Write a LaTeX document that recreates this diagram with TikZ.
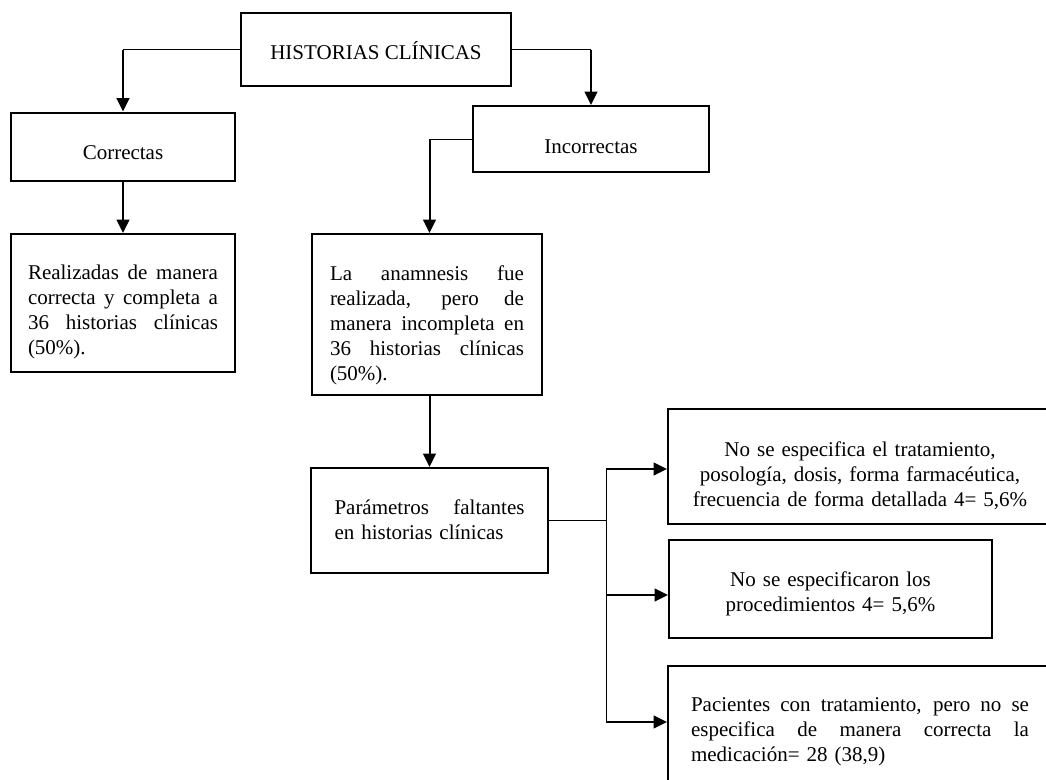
\documentclass[tikz,border=0pt]{standalone}
\usepackage{fontspec}
\setmainfont{Liberation Serif}
\usetikzlibrary{arrows.meta,positioning,calc}
% justified line: spaces stretched to the given width
\newcommand\fillline[2]{{\spaceskip=0.25em plus 1fil\makebox[#1][s]{#2}}}
\tikzset{
  >=Triangle,
  every node/.append style={font=\fontsize{15.75pt}{18.75pt}\selectfont},
}
\tikzset{
  box/.style={draw, line width=1.5pt, inner sep=0pt, align=center},
  arrow/.style={-{Triangle[length=10pt,width=9.5pt]}, line width=1.5pt},
  link/.style={line width=0.75pt}
}

\begin{document}
\begin{tikzpicture}[
  x=0.75pt, y=-0.75pt,
  title/.style ={box, minimum width=202.5pt, minimum height=54.75pt, text height=15.6pt, text depth=0pt},
  branch/.style={box, minimum height=51pt, text height=20.2pt, text depth=0pt},
  textbox/.style={box, align=left, text height=12pt}
]

% page frame (the figure is cut at the right and bottom)
\useasboundingbox (0,0) rectangle (1046,779);
\clip (0,0) rectangle (1046,779);
\fill[white] (0,0) rectangle (1046,779);

% title box
\node[title] (hist) at (376,49.5) {HISTORIAS CLÍNICAS};

% the two branches
\node[branch, minimum width=168pt] (correctas) at (123,146.5) {Correctas};
\node[branch, minimum width=177pt, minimum height=49.5pt, text height=22.4pt] (incorrectas) at (591,139) {Incorrectas};

% results under each branch
\node[textbox, minimum width=168pt, minimum height=103.5pt, text width=142.5pt, text depth=47.35pt] (realizadas) at (123,303)
  {\fillline{142.5pt}{Realizadas de manera}\\
   \fillline{142.5pt}{correcta y completa a}\\
   \fillline{142.5pt}{36 historias clínicas}\\
   (50\%).};
\node[textbox, minimum width=172.5pt, minimum height=120.75pt, text width=145.5pt, text depth=62.4pt] (anamnesis) at (427,314.5)
  {\fillline{145.5pt}{La anamnesis fue}\\
   \fillline{145.5pt}{realizada, pero de}\\
   \fillline{145.5pt}{manera incompleta en}\\
   \fillline{145.5pt}{36 historias clínicas}\\
   (50\%).};
\node[textbox, minimum width=177.75pt, minimum height=78.75pt, text width=142.5pt, text depth=20.35pt] (parametros) at (429.5,520.5)
  {\fillline{142.5pt}{Parámetros faltantes}\\
   en historias clínicas};

% missing parameters
\node[box, minimum width=288pt, minimum height=86.25pt, text width=270pt, text height=12pt, text depth=26.3pt] (trat) at (860,466.5)
  {No se especifica el tratamiento,\\
   posología, dosis, forma farmacéutica,\\
   frecuencia de forma detallada 4= 5,6\%};
\node[box, minimum width=242.25pt, minimum height=73.5pt, text width=220pt, text height=12pt, text depth=15.15pt] (proc) at (830.5,589)
  {No se especificaron los\\
   procedimientos 4= 5,6\%};
\node[textbox, minimum width=288pt, minimum height=96pt, text width=253.5pt, text depth=39.1pt] (pacientes) at (860,730)
  {\fillline{253.5pt}{Pacientes con tratamiento, pero no se}\\
   \fillline{253.5pt}{especifica de manera correcta la}\\
   medicación= 28 (38,9)};

% title to branches
\draw[link] (hist.west) -- (hist.west -| correctas.north);
\draw[arrow] (hist.west -| correctas.north) -- (correctas.north);
\draw[link] (hist.east) -- (hist.east -| incorrectas.north);
\draw[arrow] (hist.east -| incorrectas.north) -- (incorrectas.north);

% branches to results
\draw[arrow] (correctas.south) -- (realizadas.north);
\draw[link] (incorrectas.west) -- (incorrectas.west -| parametros.north);
\draw[arrow] (incorrectas.west -| parametros.north) -- (parametros.north |- anamnesis.north);
\draw[arrow] (parametros.north |- anamnesis.south) -- (parametros.north);

% fan out to the three missing parameters
\path (parametros.east) ++(57,0) coordinate (split);
\coordinate (t1) at (split |- 0,469);
\coordinate (t2) at (split |- 0,595);
\coordinate (t3) at (split |- 0,722);
\draw[link] (parametros.east) -- (split);
\draw[link] (t1) -- (t3);
\foreach \t/\b in {t1/trat, t2/proc, t3/pacientes}
  \draw[arrow] (\t) -- (\t -| \b.west);

\end{tikzpicture}
\end{document}
